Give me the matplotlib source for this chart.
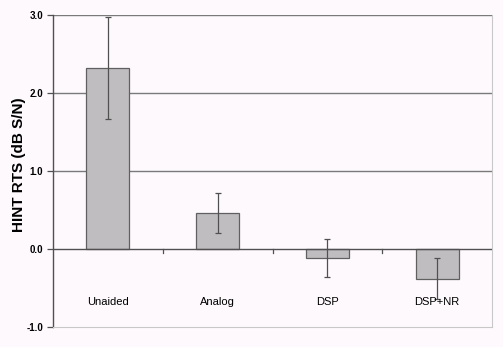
import numpy as np
import matplotlib
matplotlib.use("Agg")
import matplotlib.pyplot as plt

conditions = ["Unaided", "Analog", "DSP", "DSP+NR"]
rts_mean = [2.32, 0.46, -0.12, -0.38]
rts_err = [0.65, 0.26, 0.245, 0.26]
y_ticks = [-1.0, 0.0, 1.0, 2.0, 3.0]

plt.rcParams['font.family'] = ['Liberation Sans', 'DejaVu Sans']

bg = '#fdf9fd'
fig = plt.figure(figsize=(5.03, 3.47), dpi=100, facecolor=bg)
ax = fig.add_axes([53 / 503, 20 / 347, 439 / 503, 312 / 347], facecolor=bg)

x = np.arange(len(conditions))
ax.set_xlim(-0.5, len(conditions) - 0.5)
ax.set_ylim(-1.0, 3.0)

# horizontal gridlines above zero
for g in [1.0, 2.0, 3.0]:
    ax.axhline(g, color='#7a7a7a', lw=1.0, zorder=1)

ax.bar(x, rts_mean, width=0.39, color='#c0bdc0', edgecolor='#606060',
       linewidth=0.9, zorder=2)
ax.errorbar(x, rts_mean, yerr=rts_err, fmt='none', ecolor='#505050',
            elinewidth=0.9, capsize=2, capthick=0.9, zorder=3)

# category axis drawn at zero with ticks between categories
ax.axhline(0, color='#505050', lw=1.0, zorder=4)
for b in x[:-1] + 0.5:
    ax.plot([b, b], [0, -0.05], color='#505050', lw=0.9, zorder=4)

for xi, name in zip(x, conditions):
    ax.text(xi, -0.68, name, ha='center', va='center', fontsize=8,
            color='black', zorder=5)

ax.set_xticks([])
ax.set_yticks(y_ticks)
ax.set_yticklabels([f"{v:.1f}" for v in y_ticks], fontsize=7, fontweight='bold')
ax.tick_params(axis='y', direction='out', length=4, width=0.9, color='#505050', pad=3)
ax.set_ylabel("HINT RTS (dB S/N)", fontsize=11, fontweight='bold')
ax.yaxis.set_label_coords(-27 / 439, 0.52)

ax.spines['left'].set_color('#505050')
ax.spines['left'].set_linewidth(1.0)
ax.spines['top'].set_visible(False)
ax.spines['right'].set_color('#c8c8c8')
ax.spines['bottom'].set_color('#c8c8c8')

fig.savefig("out.png", dpi=100, facecolor=bg)
